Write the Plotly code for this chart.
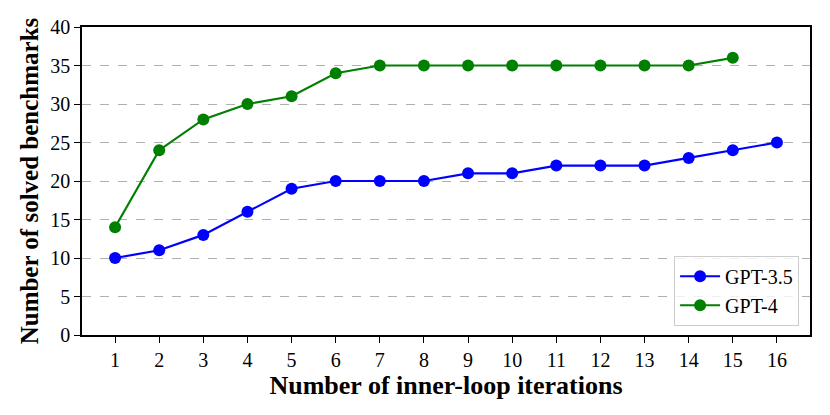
import plotly.graph_objects as go

ITERATIONS = list(range(1, 17))
GPT35 = [10, 11, 13, 16, 19, 20, 20, 20, 21, 21, 22, 22, 22, 23, 24, 25]
GPT4 = [14, 24, 28, 30, 31, 34, 35, 35, 35, 35, 35, 35, 35, 35, 36]

FONT = "Liberation Serif"

fig = go.Figure()

fig.add_trace(go.Scatter(
	x=ITERATIONS,
	y=GPT35,
	mode="lines+markers",
	name="GPT-3.5",
	line=dict(color="#0000ff", width=2.2),
	marker=dict(color="#0000ff", size=12),
))

fig.add_trace(go.Scatter(
	x=ITERATIONS[:len(GPT4)],
	y=GPT4,
	mode="lines+markers",
	name="GPT-4",
	line=dict(color="#008000", width=2.2),
	marker=dict(color="#008000", size=12),
))

fig.update_xaxes(
	range=[0.25, 16.75],
	tickmode="array",
	tickvals=ITERATIONS,
	ticks="outside",
	ticklen=6,
	tickwidth=1.2,
	tickcolor="black",
	showgrid=False,
	showline=True,
	linecolor="black",
	linewidth=1.5,
	mirror=True,
	zeroline=False,
	automargin=False,
	title=dict(text="<b>Number of inner-loop iterations</b>", font=dict(size=26), standoff=2),
	tickfont=dict(size=20),
)

fig.update_yaxes(
	range=[0, 40],
	dtick=5,
	ticks="outside",
	ticklen=6,
	tickwidth=1.2,
	tickcolor="black",
	showgrid=True,
	gridcolor="#b0b0b0",
	griddash="dash",
	gridwidth=0.8,
	showline=True,
	linecolor="black",
	linewidth=1.5,
	mirror=True,
	zeroline=False,
	automargin=False,
	title=dict(text="<b>Number of solved benchmarks</b>", font=dict(size=25), standoff=5),
	tickfont=dict(size=20),
)

# page body adds an 8px offset, so the figure is a bit smaller than the window
fig.update_layout(
	width=822,
	height=407,
	margin=dict(l=74, r=20, t=19, b=80),
	plot_bgcolor="white",
	paper_bgcolor="white",
	font=dict(family=FONT, color="black"),
	legend=dict(
		x=0.985,
		y=0.03,
		xanchor="right",
		yanchor="bottom",
		bgcolor="rgba(255,255,255,0.8)",
		bordercolor="#cccccc",
		borderwidth=1,
		itemwidth=40,
		font=dict(size=20),
	),
)

fig.write_html("out.html")
